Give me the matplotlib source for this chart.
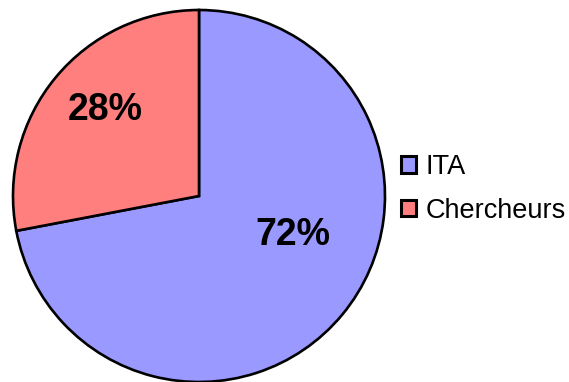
import matplotlib
matplotlib.use("Agg")
import matplotlib.pyplot as plt

plt.rcParams['font.family'] = ['Liberation Sans', 'DejaVu Sans']

# --- Data ---
labels = ['ITA', 'Chercheurs']
values = [72, 28]
colors = ['#9999FF', '#FF7F7F']

# label anchor points inside each wedge (data units, radius 1)
label_pos = [(0.505, -0.21), (-0.505, 0.462)]

# --- Figure ---
W, H = 569, 382
fig = plt.figure(figsize=(W / 100, H / 100), dpi=100)
cx, cy, r = 199, 196, 186
ax = fig.add_axes([(cx - r) / W, (H - cy - r) / H, 2 * r / W, 2 * r / H])

wedges, _ = ax.pie(values, colors=colors, startangle=90, counterclock=False,
                   wedgeprops=dict(edgecolor='black', linewidth=1.9))
for w in wedges:
    w.set_clip_on(False)
ax.set_xlim(-1, 1)
ax.set_ylim(-1, 1)
ax.set_aspect('equal')
ax.axis('off')

for v, (x, y) in zip(values, label_pos):
    ax.text(x, y, f"{v}%", ha='center', va='center',
            fontsize=27, fontweight='bold', color='black')

leg = fig.legend(wedges, labels, loc='center left', bbox_to_anchor=(401 / W, 1 - 189 / H),
                 frameon=False, fontsize=19.5, borderpad=0, borderaxespad=0,
                 handlelength=0.55, handleheight=0.55, handletextpad=0.35,
                 labelspacing=0.65)
for p in leg.get_patches():
    p.set_linewidth(2.2)

fig.savefig('out.png', dpi=100, facecolor='white')
